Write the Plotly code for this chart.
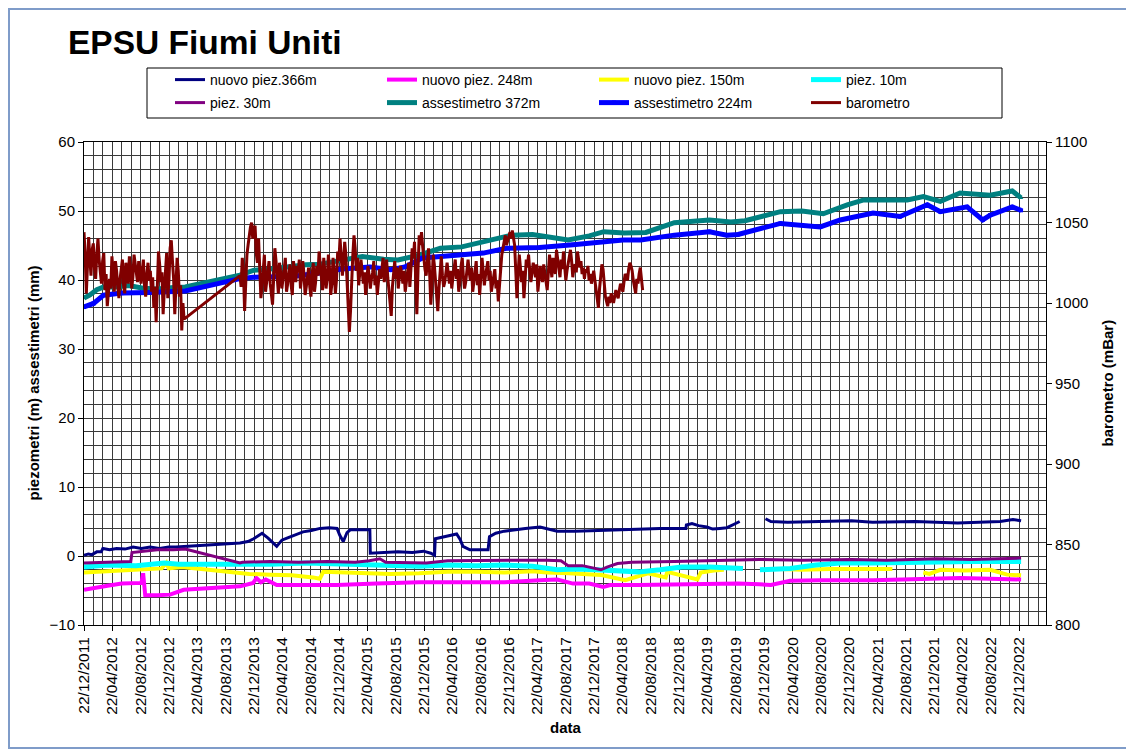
import pandas as pd
import plotly.graph_objects as go

FONT = "Liberation Sans, Arial, sans-serif"
OFF = 8                      # page offset of the figure (body margin)
W, H = 1134 - OFF, 751 - OFF
ML, MR, MT, MB = 76, 88, 134, 126
GRID = "#3a3a3a"

# ---------------- data ----------------
tick_dates = ["2011-12-22", "2012-04-22", "2012-08-22", "2012-12-22", "2013-04-22", "2013-08-22",
              "2013-12-22", "2014-04-22", "2014-08-22", "2014-12-22", "2015-04-22", "2015-08-22",
              "2015-12-22", "2016-04-22", "2016-08-22", "2016-12-22", "2017-04-22", "2017-08-22",
              "2017-12-22", "2018-04-22", "2018-08-22", "2018-12-22", "2019-04-22", "2019-08-22",
              "2019-12-22", "2020-04-22", "2020-08-22", "2020-12-22", "2021-04-22", "2021-08-22",
              "2021-12-22", "2022-04-22", "2022-08-22", "2022-12-22"]
tick_labels = ["22/12/2011", "22/04/2012", "22/08/2012", "22/12/2012", "22/04/2013", "22/08/2013",
               "22/12/2013", "22/04/2014", "22/08/2014", "22/12/2014", "22/04/2015", "22/08/2015",
               "22/12/2015", "22/04/2016", "22/08/2016", "22/12/2016", "22/04/2017", "22/08/2017",
               "22/12/2017", "22/04/2018", "22/08/2018", "22/12/2018", "22/04/2019", "22/08/2019",
               "22/12/2019", "22/04/2020", "22/08/2020", "22/12/2020", "22/04/2021", "22/08/2021",
               "22/12/2021", "22/04/2022", "22/08/2022", "22/12/2022"]
x_start, x_end = "2011-12-22", "2023-04-16"

# nuovo piez. 366m
p366_dates = ["2011-12-22", "2012-01-10", "2012-01-25", "2012-02-15", "2012-03-05", "2012-03-12",
              "2012-04-10", "2012-05-10", "2012-06-15", "2012-07-20", "2012-08-25", "2012-10-01",
              "2012-11-10", "2012-12-20", "2013-01-20", "2013-10-22", "2013-11-25", "2013-12-20",
              "2014-01-25", "2014-02-20", "2014-03-29", "2014-04-20", "2014-05-12", "2014-06-15",
              "2014-07-20", "2014-08-25", "2014-10-01", "2014-11-10", "2014-12-13", "2014-12-25",
              "2015-01-09", "2015-01-25", "2015-02-08", "2015-03-20", "2015-05-03", "2015-05-05",
              "2015-07-01", "2015-09-01", "2015-11-01", "2015-12-20", "2016-01-20", "2016-02-05",
              "2016-02-08", "2016-03-10", "2016-04-10", "2016-05-10", "2016-05-25", "2016-06-06",
              "2016-07-06", "2016-09-22", "2016-09-28", "2016-10-25", "2016-12-01", "2017-01-10",
              "2017-03-01", "2017-05-03", "2017-07-16", "2017-10-01", "2018-01-01", "2018-04-01",
              "2018-07-10", "2018-10-01", "2019-01-20", "2019-01-22", "2019-02-15", "2019-03-15",
              "2019-04-20", "2019-05-15", "2019-06-15", "2019-07-15", "2019-08-15", "2019-09-08",
              "2019-09-09", "2019-12-28", "2020-01-20", "2020-04-01", "2020-07-01", "2020-10-01",
              "2021-01-01", "2021-04-01", "2021-07-01", "2021-10-01", "2022-01-01", "2022-04-01",
              "2022-07-01", "2022-10-01", "2022-11-25", "2022-12-30"]
p366_vals = [0.1, 0.3, 0.2, 0.6, 0.6, 1.1,
             0.9, 1.1, 1.0, 1.3, 1.1, 1.3,
             1.1, 1.3, 1.3, 1.9, 2.1, 2.5,
             3.3, 2.6, 1.4, 2.3, 2.6, 3.0,
             3.5, 3.7, 4.0, 4.1, 4.0, 3.0,
             2.1, 3.4, 3.8, 3.8, 3.8, 0.4,
             0.5, 0.6, 0.5, 0.7, 0.4, 0.1,
             2.5, 2.7, 2.9, 3.2, 2.4, 1.4,
             0.9, 0.9, 2.8, 3.3, 3.6, 3.8,
             4.0, 4.2, 3.6, 3.6, 3.7, 3.8,
             4.0, 4.0, 4.0, 4.5, 4.7, 4.4,
             4.2, 3.9, 4.0, 4.1, 4.6, 5.0,
             None, 5.4, 5.0, 4.9, 5.0, 5.0,
             5.1, 4.9, 5.0, 5.0, 4.9, 4.8,
             4.9, 5.0, 5.3, 5.1]

# nuovo piez. 248m
p248_dates = ["2011-12-22", "2012-02-01", "2012-04-01", "2012-06-01", "2012-08-01", "2012-08-25",
              "2012-09-01", "2012-09-10", "2012-11-01", "2012-12-26", "2013-02-22", "2013-10-22",
              "2013-12-18", "2014-01-01", "2014-01-20", "2014-02-10", "2014-03-29", "2014-06-01",
              "2014-12-13", "2015-06-01", "2015-12-01", "2016-06-01", "2016-12-01", "2017-05-03",
              "2017-07-16", "2017-09-22", "2017-12-01", "2018-01-30", "2018-03-01", "2018-07-01",
              "2018-12-01", "2019-05-15", "2019-09-01", "2019-12-01", "2020-01-20", "2020-04-12",
              "2020-08-19", "2021-04-03", "2021-10-01", "2022-04-12", "2022-08-19", "2022-12-30"]
p248_vals = [-4.9, -4.6, -4.3, -4.0, -3.9, -3.9,
             -2.5, -5.7, -5.7, -5.6, -4.9, -4.4,
             -3.9, -3.2, -3.8, -3.4, -4.2, -4.2,
             -4.2, -4.0, -3.8, -3.8, -3.8, -3.5,
             -3.4, -4.0, -4.0, -4.5, -4.2, -4.2,
             -4.1, -4.0, -4.0, -4.1, -4.2, -3.6,
             -3.5, -3.5, -3.4, -3.2, -3.3, -3.4]

# nuovo piez. 150m
p150_dates = ["2011-12-22", "2012-04-01", "2012-08-01", "2012-11-20", "2012-12-10", "2012-12-20",
              "2013-02-15", "2013-10-22", "2013-12-01", "2014-03-01", "2014-06-01", "2014-09-01",
              "2014-09-30", "2014-10-15", "2015-03-01", "2015-08-01", "2015-12-01", "2016-04-01",
              "2016-08-01", "2016-12-01", "2017-04-01", "2017-06-01", "2017-09-01", "2018-01-22",
              "2018-05-04", "2018-08-10", "2018-10-25", "2018-11-01", "2019-03-10", "2019-03-25",
              "2019-05-20", "2019-07-02", "2019-07-03", "2020-03-01", "2020-06-01", "2020-10-01",
              "2021-02-01", "2021-06-25", "2021-06-26", "2021-11-05", "2021-12-01", "2022-01-17",
              "2022-05-01", "2022-08-19", "2022-10-31", "2022-12-30"]
p150_vals = [-2.4, -2.2, -2.1, -1.8, -1.0, -1.8,
             -1.6, -2.5, -2.6, -2.7, -2.8, -3.1,
             -3.3, -2.3, -2.4, -2.6, -2.5, -2.3,
             -2.3, -2.4, -2.2, -2.4, -2.5, -2.75,
             -3.5, -2.5, -3.1, -2.3, -3.4, -2.4,
             -2.1, -2.0, None, -1.9, -2.0, -1.9,
             -1.9, -1.9, None, -2.4, -2.6, -2.0,
             -2.1, -2.0, -2.7, -2.8]

# piez. 10m
p10_dates = ["2011-12-22", "2012-04-01", "2012-08-01", "2012-12-01", "2013-02-01", "2013-10-22",
             "2014-03-01", "2014-08-01", "2014-12-01", "2015-04-01", "2015-08-01", "2015-12-01",
             "2016-04-01", "2016-08-01", "2016-12-01", "2017-04-01", "2017-07-16", "2017-10-01",
             "2018-01-01", "2018-04-01", "2018-07-01", "2018-10-01", "2019-01-01", "2019-05-01",
             "2019-09-22", "2019-09-23", "2019-12-04", "2020-04-12", "2020-08-01", "2020-11-13",
             "2021-04-01", "2021-08-01", "2022-01-17", "2022-06-01", "2022-12-30"]
p10_vals = [-1.6, -1.3, -1.4, -1.0, -1.2, -1.3,
            -1.2, -1.0, -1.1, -1.3, -1.4, -1.5,
            -1.3, -1.4, -1.3, -1.5, -2.0, -1.9,
            -2.0, -2.2, -2.3, -2.0, -1.6, -1.6,
            -1.8, None, -2.0, -1.8, -1.3, -1.0,
            -1.0, -0.9, -0.8, -0.8, -0.8]

# piez. 30m
p30_dates = ["2011-12-22", "2012-03-01", "2012-06-01", "2012-07-10", "2012-07-15", "2012-09-01",
             "2012-11-01", "2013-01-10", "2013-03-01", "2013-10-22", "2013-11-01", "2014-03-01",
             "2014-07-01", "2014-11-01", "2015-03-01", "2015-05-01", "2015-06-15", "2015-07-10",
             "2015-11-01", "2016-01-01", "2016-04-01", "2016-09-01", "2017-01-01", "2017-06-01",
             "2017-08-01", "2017-09-01", "2017-11-01", "2018-01-20", "2018-02-15", "2018-04-01",
             "2018-06-01", "2018-12-01", "2019-06-01", "2019-12-01", "2020-06-01", "2021-01-01",
             "2021-06-01", "2022-01-01", "2022-06-01", "2022-12-30"]
p30_vals = [-1.0, -0.9, -0.8, -0.8, 0.5, 0.7,
            0.9, 0.9, 1.0, -1.0, -0.9, -0.8,
            -0.9, -0.8, -0.9, -0.7, -0.4, -0.9,
            -0.9, -1.0, -0.7, -0.6, -0.6, -0.6,
            -0.7, -1.4, -1.4, -2.0, -1.6, -1.1,
            -0.9, -0.8, -0.7, -0.5, -0.6, -0.5,
            -0.6, -0.4, -0.5, -0.3]

# assestimetro 372m
a372_dates = ["2011-12-22", "2012-01-15", "2012-02-15", "2012-03-15", "2012-05-01", "2012-07-01",
              "2012-09-01", "2012-11-01", "2013-01-10", "2013-03-01", "2013-10-22", "2013-12-18",
              "2014-03-01", "2014-05-12", "2014-08-01", "2014-10-01", "2015-01-01", "2015-04-01",
              "2015-07-01", "2015-09-01", "2015-12-01", "2016-03-01", "2016-06-01", "2016-09-01",
              "2017-01-01", "2017-04-01", "2017-06-01", "2017-09-01", "2017-12-01", "2018-02-01",
              "2018-05-01", "2018-08-01", "2018-12-01", "2019-05-01", "2019-08-01", "2019-10-01",
              "2020-03-01", "2020-06-01", "2020-09-01", "2020-12-13", "2021-02-22", "2021-08-28",
              "2021-11-05", "2022-01-17", "2022-04-12", "2022-08-19", "2022-11-22", "2022-12-30"]
a372_vals = [37.4, 37.8, 38.6, 39.0, 39.0, 39.2,
             38.8, 38.7, 38.9, 39.0, 40.7, 41.4,
             41.6, 41.9, 42.2, 42.3, 42.8, 43.4,
             43.0, 42.9, 43.6, 44.6, 44.8, 45.6,
             46.5, 46.6, 46.3, 45.8, 46.4, 47.0,
             46.8, 46.9, 48.3, 48.7, 48.4, 48.6,
             49.9, 50.0, 49.6, 50.9, 51.6, 51.6,
             52.1, 51.4, 52.6, 52.3, 52.9, 51.9]

# assestimetro 224m
a224_dates = ["2011-12-22", "2012-02-01", "2012-03-15", "2012-06-01", "2012-10-01", "2013-01-10",
              "2013-03-01", "2013-10-22", "2013-12-18", "2014-06-01", "2014-10-01", "2015-01-01",
              "2015-05-03", "2015-08-01", "2015-10-01", "2015-12-15", "2016-05-01", "2016-09-01",
              "2016-12-10", "2017-05-01", "2017-09-22", "2018-04-25", "2018-07-10", "2018-12-01",
              "2019-05-01", "2019-07-15", "2019-09-01", "2020-03-01", "2020-08-19", "2020-11-13",
              "2021-04-03", "2021-07-28", "2021-11-22", "2022-01-17", "2022-05-12", "2022-07-18",
              "2022-08-19", "2022-11-22", "2022-12-30"]
a224_vals = [36.1, 36.6, 37.8, 38.1, 38.2, 38.3,
             38.4, 40.2, 40.4, 40.5, 41.0, 41.6,
             41.9, 41.5, 41.9, 43.2, 43.6, 43.9,
             44.6, 44.7, 45.1, 45.8, 45.8, 46.5,
             47.0, 46.5, 46.6, 48.2, 47.7, 48.7,
             49.7, 49.2, 50.9, 49.9, 50.6, 48.7,
             49.4, 50.6, 50.1]

# barometro (mBar): readings every 5 days, two campaigns
baro1_start = "2011-12-22"
baro1_vals = [1044, 1030, 1006, 1024, 1041, 1028, 1017, 1033, 1037, 1022,
              1015, 1030, 1040, 1027, 1019, 1012, 1026, 1031, 1008, 1018,
              998, 1005, 1015, 1009, 1029, 1019, 1007, 1026, 1020, 1010,
              1003, 1015, 1023, 1027, 1011, 1006, 1025, 1018, 1012, 1029,
              1022, 1009, 1016, 1030, 1024, 1018, 1013, 1026, 1021, 1012,
              1023, 1027, 1011, 1004, 1018, 1025, 1014, 1020, 1007, 1016,
              997, 1010, 988, 1012, 1032, 1024, 1013, 1019, 993, 1008,
              1023, 1031, 1003, 1014, 1034, 1039, 1026, 1015, 993, 1010,
              1028, 1020, 1004, 1011, 983, 1000, 990]
baro2_start = "2013-10-22"
baro2_vals = [1017, 1010, 1028, 1020, 995, 1012, 1030, 1036, 1042, 1047, 1050, 1040, 1046, 1048, 1031, 1025, 1040, 1022, 1003,
              1011, 1023, 1030, 1007, 1014, 1021, 1026, 1012, 1004, 999, 1016, 1034, 1026, 1013, 1006, 1025, 1019, 1009, 1014, 1021,
              1028, 1007, 1012, 1019, 1024, 1011, 1005, 1026, 1018, 1013, 1023, 1019, 1027, 1009, 1016, 1026, 1018, 1005, 1010, 1015,
              1022, 1010, 1004, 1018, 1025, 1007, 1013, 1023, 1017, 1032, 1024, 1013, 1008, 1028, 1020, 1009, 1016, 1030, 1021, 1005,
              1012, 1028, 1019, 1006, 1015, 1032, 1026, 1040, 1029, 1017, 1025, 1038, 1030, 1013, 1000, 982, 995, 1017, 1030, 1042,
              1034, 1020, 1028, 1011, 1018, 1027, 1020, 1012, 1019, 1005, 1014, 1023, 1017, 1009, 1015, 1019, 1026, 1011, 1017, 1005,
              1013, 1021, 1015, 1023, 1028, 1013, 1020, 1027, 1016, 1008, 1001, 992, 1010, 1021, 1026, 1015, 1022, 1009, 1016, 1023,
              1018, 1012, 1020, 1007, 1013, 1019, 1025, 1010, 1022, 1034, 1028, 1038, 1015, 993, 1020, 1042, 1036, 1044, 1035, 1027,
              1021, 1017, 1026, 1034, 1018, 999, 1011, 1030, 1024, 1012, 1003, 995, 1009, 1023, 1029, 1017, 1010, 1013, 1019, 1025,
              1018, 1012, 1020, 1009, 1016, 1021, 1027, 1015, 1021, 1007, 1013, 1023, 1028, 1016, 1009, 1013, 1020, 1027, 1019, 1014,
              1022, 1007, 1013, 1019, 1026, 1011, 1018, 1005, 1016, 1028, 1020, 1011, 1017, 1021, 1026, 1014, 1020, 1007, 1012, 1015,
              1021, 1009, 1014, 1001, 1012, 1025, 1030, 1034, 1039, 1042, 1036, 1038, 1041, 1044, 1040, 1045, 1041, 1036, 1020, 1003,
              1018, 1030, 1022, 1013, 1020, 1003, 1014, 1027, 1022, 1030, 1020, 1013, 1019, 1025, 1021, 1016, 1024, 1007, 1015, 1023,
              1017, 1013, 1024, 1018, 1012, 1008, 1019, 1030, 1023, 1016, 1028, 1024, 1018, 1033, 1026, 1020, 1016, 1027, 1021, 1032,
              1025, 1014, 1020, 1025, 1029, 1033, 1026, 1016, 1022, 1024, 1019, 1032, 1027, 1022, 1026, 1018, 1022, 1015, 1021, 1019,
              1023, 1014, 1018, 1012, 1016, 1020, 1014, 1008, 1003, 997, 1009, 1018, 1024, 1021, 1012, 1004, 1001, 998, 1004, 1000,
              1006, 1002, 1000, 1004, 1008, 1005, 1003, 1008, 1012, 1010, 1007, 1013, 1018, 1017, 1014, 1021, 1025, 1023, 1020, 1014,
              1009, 1006, 1015, 1012, 1018, 1022, 1015, 1008]
baro_step = "5D"

# ---------------- figure ----------------
baro_dates = list(pd.date_range(baro1_start, periods=len(baro1_vals), freq=baro_step)) + \
             list(pd.date_range(baro2_start, periods=len(baro2_vals), freq=baro_step))
baro_vals = baro1_vals + baro2_vals


def px_x(px):  # page pixel -> paper x
    return (px - OFF - ML) / (W - ML - MR)


def px_y(py):  # page pixel -> paper y
    return (H - MB - (py - OFF)) / (H - MT - MB)


series = [
    ("nuovo piez.366m", p366_dates, p366_vals, "#000080", 3, None, "legend"),
    ("nuovo piez. 248m", p248_dates, p248_vals, "#FF00FF", 4, None, "legend"),
    ("nuovo piez. 150m", p150_dates, p150_vals, "#FFFF00", 4, None, "legend"),
    ("piez. 10m", p10_dates, p10_vals, "#00FFFF", 5, None, "legend"),
    ("piez. 30m", p30_dates, p30_vals, "#800080", 3, None, "legend2"),
    ("assestimetro 372m", a372_dates, a372_vals, "#008080", 5, "triangle-up", "legend2"),
    ("assestimetro 224m", a224_dates, a224_vals, "#0000FF", 5, "square", "legend2"),
]

fig = go.Figure()
for name, d, v, c, w, sym, lg in series:
    kw = dict(mode="lines")
    if sym:
        kw = dict(mode="lines+markers", marker=dict(symbol=sym, size=4, color=c))
    fig.add_trace(go.Scatter(x=d, y=v, name=name, line=dict(color=c, width=w),
                             connectgaps=False, legend=lg, **kw))
fig.add_trace(go.Scatter(x=baro_dates, y=baro_vals, name="barometro", yaxis="y2", legend="legend2",
                         mode="lines", line=dict(color="#800000", width=3)))

# minor vertical grid: thirds between the 4-month ticks
td = pd.to_datetime(tick_dates + ["2023-04-22"])
minor_vals = []
for a, b in zip(td[:-1], td[1:]):
    minor_vals += [a + (b - a) / 3, a + 2 * (b - a) / 3]

tickfont = dict(family=FONT, size=15, color="black")
leg_common = dict(orientation="h", xanchor="left", yanchor="middle", borderwidth=0,
                  bgcolor="rgba(0,0,0,0)", font=dict(family=FONT, size=14, color="black"),
                  entrywidth=167, entrywidthmode="pixels", traceorder="normal")
fig.update_layout(
    width=W, height=H,
    margin=dict(l=ML, r=MR, t=MT, b=MB, autoexpand=False),
    paper_bgcolor="white", plot_bgcolor="white",
    font=dict(family=FONT, color="black"),
    title=dict(text="<b>EPSU Fiumi Uniti</b>", font=dict(family=FONT, size=33.5, color="black"),
               x=(68 - OFF) / W, xref="container", xanchor="left",
               y=1 - (42 - OFF) / H, yref="container", yanchor="middle"),
    xaxis=dict(type="date", range=[x_start, x_end], tickmode="array", tickvals=tick_dates,
               ticktext=tick_labels, tickangle=-90, ticks="outside", ticklen=5, tickcolor="black",
               showgrid=True, gridcolor=GRID, gridwidth=1,
               minor=dict(tickmode="array", tickvals=minor_vals, showgrid=True, gridcolor=GRID,
                          gridwidth=1),
               showline=True, linecolor="black", linewidth=1, mirror=True, zeroline=False,
               tickfont=dict(family=FONT, size=15.5, color="black"), automargin=False),
    yaxis=dict(range=[-10, 60], dtick=10, tick0=0, ticks="outside", ticklen=5, tickcolor="black",
               showgrid=True, gridcolor=GRID, gridwidth=1,
               minor=dict(dtick=2, showgrid=True, gridcolor=GRID, gridwidth=1),
               showline=True, linecolor="black", linewidth=1, zeroline=False,
               tickfont=tickfont, automargin=False),
    yaxis2=dict(overlaying="y", side="right", range=[800, 1100], dtick=50, ticks="outside",
                ticklen=5, tickcolor="black", showgrid=False, showline=True, linecolor="black",
                linewidth=1, zeroline=False, tickfont=tickfont, automargin=False),
    legend=dict(x=px_x(170), y=px_y(80), **leg_common),
    legend2=dict(x=px_x(170), y=px_y(103), **leg_common),
    showlegend=True,
)

ann_font = dict(family=FONT, size=15, color="black")
fig.add_annotation(text="<b>piezometri (m) assestimetri (mm)</b>", textangle=-90,
                   x=px_x(33), y=0.5, xref="paper", yref="paper", xanchor="center",
                   yanchor="middle", showarrow=False, font=ann_font)
fig.add_annotation(text="<b>barometro (mBar)</b>", textangle=-90,
                   x=px_x(1107), y=0.5, xref="paper", yref="paper", xanchor="center",
                   yanchor="middle", showarrow=False, font=ann_font)
fig.add_annotation(text="<b>data</b>", x=px_x(566), y=px_y(727), xref="paper", yref="paper",
                   xanchor="center", yanchor="middle", showarrow=False, font=ann_font)

# legend frame and chart-area frame
fig.add_shape(type="rect", xref="paper", yref="paper",
              x0=px_x(147), x1=px_x(1002), y0=px_y(118), y1=px_y(68),
              line=dict(color="black", width=1), fillcolor="rgba(0,0,0,0)", layer="below")
fig.add_shape(type="rect", xref="paper", yref="paper",
              x0=px_x(9), x1=px_x(1131), y0=px_y(748), y1=px_y(9),
              line=dict(color="#7f9cc9", width=2), fillcolor="rgba(0,0,0,0)", layer="below")

fig.write_html("out.html")
